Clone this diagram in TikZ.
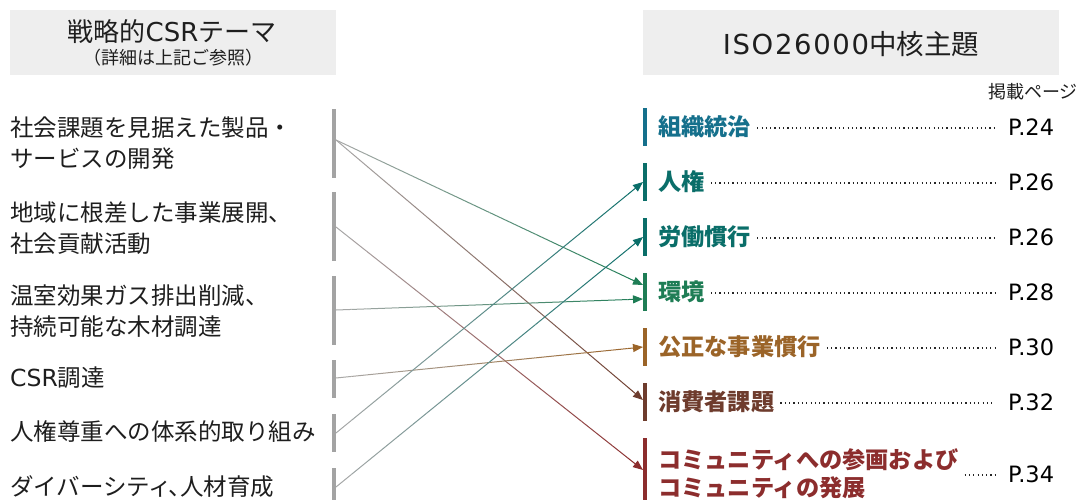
\documentclass[tikz,border=0pt]{standalone}
\usepackage{fontspec}
\setmainfont{Noto Sans CJK JP}
\newfontfamily\latinf{DejaVu Sans}
\newfontfamily\latinw[LetterSpace=6]{DejaVu Sans}
\newfontfamily\paltf[RawFeature=+palt]{Noto Sans CJK JP}
\usetikzlibrary{arrows.meta,calc}
\definecolor{hdr}{HTML}{EEEEEE}
\definecolor{barg}{HTML}{A3A3A3}
\definecolor{lgray}{HTML}{A8A8A8}
\definecolor{txt}{HTML}{1E1E1E}
\definecolor{cA}{HTML}{15708C}
\definecolor{cB}{HTML}{0A6E69}
\definecolor{cC}{HTML}{1E7D55}
\definecolor{cD}{HTML}{9B6428}
\definecolor{cE}{HTML}{6E3C2D}
\definecolor{cF}{HTML}{8C2D2D}
\newcommand\gconn[3]{%
  \foreach \i in {0,...,19}{%
    \pgfmathtruncatemacro\pc{(\i+0.5)*5}%
    \pgfmathsetmacro\sa{\i/20}%
    \pgfmathsetmacro\sb{(\i+1)/20}%
    \ifnum\i=19
      \draw[conn, draw=#3, fill=#3, -{Triangle[length=10pt,width=8pt]}] ($(#1)!\sa!(#2)$) -- ($(#1)!\sb!(#2)$);
    \else
      \draw[conn, draw=#3!\pc!lgray] ($(#1)!\sa!(#2)$) -- ($(#1)!\sb!(#2)$);
    \fi
  }%
}
\begin{document}
\begin{tikzpicture}[x=1pt,y=-1pt,
  hbox/.style={fill=hdr, draw=none},
  lbar/.style={fill=barg, draw=none, minimum width=4pt, inner sep=0pt, anchor=north},
  rbar/.style={draw=none, minimum width=4pt, inner sep=0pt, anchor=north},
  ltext/.style={anchor=west, align=left, inner sep=0pt, text=txt, font=\fontsize{23.5}{31}\selectfont},
  rlab/.style={anchor=west, align=left, inner sep=0pt, font=\bfseries\fontsize{23.2}{28}\selectfont},
  pnum/.style={anchor=west, inner sep=0pt, text=black, font=\latinf\fontsize{22.5}{28}\selectfont},
  leader/.style={line width=1.2pt, dash pattern=on 1.2pt off 3.1pt, draw=black!85},
  conn/.style={line width=1pt}
]
\useasboundingbox (0,0) rectangle (1080,500);

% headers
\fill[hbox] (10,10) rectangle (336,75);
\fill[hbox] (643,10) rectangle (1059,75);
\node[text=txt, font=\fontsize{26}{30}\selectfont, inner sep=0pt] (h1) at (172,32) {戦略的{\latinf CSR}テーマ};
\node[text=txt, font=\fontsize{18}{20}\selectfont, inner sep=0pt] (h1s) at (173,58) {（詳細は上記ご参照）};
\node[text=txt, font=\fontsize{27.5}{30}\selectfont, inner sep=0pt] (h2) at (851,44) {{\latinw ISO26000}中核主題};
\node[text=txt, font=\fontsize{18}{20}\selectfont, inner sep=0pt, anchor=east] (pg) at (1078,92) {掲載ページ};

% left items
\node[ltext] (t1) at (10,143) {社会課題を見据えた製品・\\サービスの開発};
\node[ltext] (t2) at (10,228) {地域に根差した事業展開、\\社会貢献活動};
\node[ltext] (t3) at (10,311) {温室効果ガス排出削減、\\持続可能な木材調達};
\node[ltext] (t4) at (10,378) {{\latinf CSR}調達};
\node[ltext] (t5) at (10,432) {人権尊重への体系的取り組み};
\node[ltext] (t6) at (10,487) {ダイバーシテ{\paltf ィ、}人材育成};

\node[lbar, minimum height=69pt] (B1) at (334,109) {};
\node[lbar, minimum height=69pt] (B2) at (334,192) {};
\node[lbar, minimum height=69pt] (B3) at (334,276) {};
\node[lbar, minimum height=38pt] (B4) at (334,360) {};
\node[lbar, minimum height=38pt] (B5) at (334,414) {};
\node[lbar, minimum height=38pt] (B6) at (334,468) {};

% right items
\node[rbar, fill=cA, minimum height=38pt] (R1) at (645,108) {};
\node[rbar, fill=cB, minimum height=38pt] (R2) at (645,163) {};
\node[rbar, fill=cB, minimum height=38pt] (R3) at (645,218) {};
\node[rbar, fill=cC, minimum height=38pt] (R4) at (645,273) {};
\node[rbar, fill=cD, minimum height=38pt] (R5) at (645,328) {};
\node[rbar, fill=cE, minimum height=38pt] (R6) at (645,383) {};
\node[rbar, fill=cF, minimum height=72pt] (R7) at (645,438) {};

\node[rlab, text=cA] (l1) at (658,127) {組織統治};
\node[rlab, text=cB] (l2) at (658,182) {人権};
\node[rlab, text=cB] (l3) at (658,237) {労働慣行};
\node[rlab, text=cC] (l4) at (658,292) {環境};
\node[rlab, text=cD] (l5) at (658,347) {公正な事業慣行};
\node[rlab, text=cE] (l6) at (658,402) {消費者課題};
\node[rlab, text=cF] (l7) at (658,474) {コミュニティへの参画および\\コミュニティの発展};

\node[pnum] (p1) at (1008,127) {P.24};
\node[pnum] (p2) at (1008,182) {P.26};
\node[pnum] (p3) at (1008,237) {P.26};
\node[pnum] (p4) at (1008,292) {P.28};
\node[pnum] (p5) at (1008,347) {P.30};
\node[pnum] (p6) at (1008,402) {P.32};
\node[pnum] (p7) at (1008,474) {P.34};

\foreach \k in {1,...,7}{
  \draw[leader] ($(l\k.east)+(6,1)$) -- ($(p\k.west |- l\k.east)+(-13,1)$);
}

% connector end points
\coordinate (s1) at (336,140);
\coordinate (s2) at (336,227);
\coordinate (s3) at (336,310);
\coordinate (s4) at (336,378);
\coordinate (s5) at (336,433);
\coordinate (s6) at (336,487);
\coordinate (e2) at (643,182);
\coordinate (e3) at (643,237);
\coordinate (e4a) at (643,285);
\coordinate (e4b) at (643,299);
\coordinate (e5) at (643,347);
\coordinate (e6) at (643,400);
\coordinate (e7) at (643,470);

\gconn{s1}{e4a}{cC}
\gconn{s1}{e6}{cE}
\gconn{s2}{e7}{cF}
\gconn{s3}{e4b}{cC}
\gconn{s4}{e5}{cD}
\gconn{s5}{e2}{cB}
\gconn{s6}{e3}{cB}
\end{tikzpicture}
\end{document}
